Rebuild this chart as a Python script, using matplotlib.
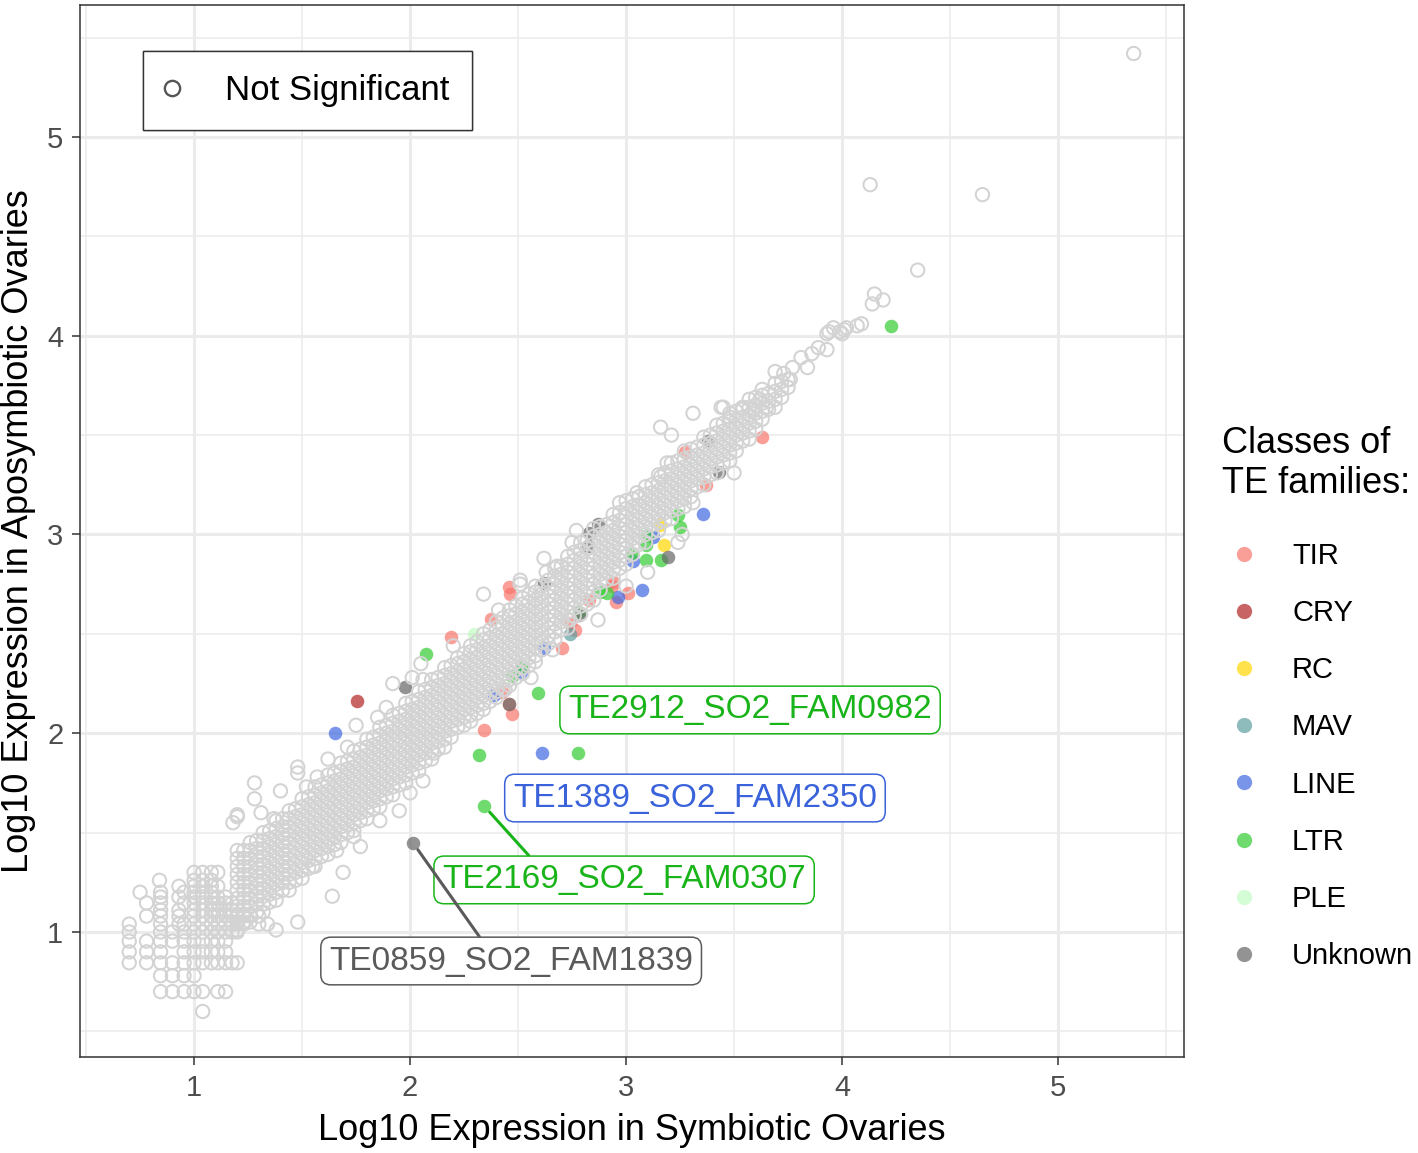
import numpy as np
import matplotlib.pyplot as plt
from matplotlib.lines import Line2D
from matplotlib.ticker import FixedLocator

plt.rcParams['font.family'] = ['Liberation Sans', 'DejaVu Sans']

# ── data: log10 expression, symbiotic (x) vs aposymbiotic (y) ──

# not significant, dense band: one column of y values per x
ns_col_x = [1.20, 1.23, 1.26, 1.29, 1.32, 1.35, 1.38, 1.41, 1.44, 1.47,
            1.50, 1.53, 1.56, 1.59, 1.62, 1.65, 1.68, 1.71, 1.74, 1.77,
            1.80, 1.83, 1.86, 1.89, 1.92, 1.95, 1.98, 2.01, 2.04, 2.07,
            2.10, 2.13, 2.16, 2.19, 2.22, 2.25, 2.28, 2.31, 2.34, 2.37,
            2.40, 2.43, 2.46, 2.49, 2.52, 2.55, 2.58, 2.61, 2.64, 2.67,
            2.70, 2.73, 2.76, 2.79, 2.82, 2.85, 2.88, 2.91, 2.94, 2.97,
            3.00, 3.03, 3.06, 3.09, 3.12, 3.15, 3.18, 3.21, 3.24, 3.27,
            3.30, 3.33, 3.36, 3.39, 3.42, 3.45, 3.48, 3.51, 3.54, 3.57,
            3.60, 3.63, 3.66, 3.69, 3.72, 3.75]
ns_col_y = [
    [1.01, 1.05, 1.09, 1.13, 1.17, 1.21, 1.25, 1.29, 1.33, 1.37, 1.41],
    [1.05, 1.09, 1.13, 1.17, 1.21, 1.25, 1.29, 1.33, 1.37, 1.41],
    [1.05, 1.09, 1.13, 1.17, 1.21, 1.25, 1.29, 1.33, 1.37, 1.41, 1.45],
    [1.10, 1.14, 1.18, 1.22, 1.26, 1.30, 1.34, 1.38, 1.42, 1.46],
    [1.10, 1.14, 1.18, 1.22, 1.26, 1.30, 1.34, 1.38, 1.42, 1.46, 1.50],
    [1.15, 1.19, 1.23, 1.27, 1.31, 1.35, 1.39, 1.43, 1.47, 1.51],
    [1.16, 1.20, 1.24, 1.28, 1.32, 1.36, 1.40, 1.44, 1.48, 1.52, 1.56],
    [1.21, 1.25, 1.29, 1.33, 1.37, 1.41, 1.45, 1.49, 1.53, 1.57],
    [1.21, 1.25, 1.29, 1.33, 1.37, 1.41, 1.45, 1.49, 1.53, 1.57, 1.61],
    [1.26, 1.30, 1.34, 1.38, 1.42, 1.46, 1.50, 1.54, 1.58, 1.62],
    [1.27, 1.31, 1.35, 1.39, 1.43, 1.47, 1.51, 1.55, 1.59, 1.63, 1.67],
    [1.32, 1.36, 1.40, 1.44, 1.48, 1.52, 1.56, 1.60, 1.64, 1.68],
    [1.33, 1.37, 1.41, 1.45, 1.49, 1.53, 1.57, 1.61, 1.65, 1.69, 1.73],
    [1.38, 1.42, 1.46, 1.50, 1.54, 1.58, 1.62, 1.66, 1.70, 1.74],
    [1.39, 1.43, 1.47, 1.51, 1.55, 1.59, 1.63, 1.67, 1.71, 1.75, 1.79],
    [1.44, 1.48, 1.52, 1.56, 1.60, 1.64, 1.68, 1.72, 1.76, 1.80],
    [1.45, 1.49, 1.53, 1.57, 1.61, 1.65, 1.69, 1.73, 1.77, 1.81, 1.85],
    [1.50, 1.54, 1.58, 1.62, 1.66, 1.70, 1.74, 1.78, 1.82, 1.86],
    [1.51, 1.55, 1.59, 1.63, 1.67, 1.71, 1.75, 1.79, 1.83, 1.87, 1.91],
    [1.56, 1.60, 1.64, 1.68, 1.72, 1.76, 1.80, 1.84, 1.88, 1.92],
    [1.57, 1.61, 1.65, 1.69, 1.73, 1.77, 1.81, 1.85, 1.89, 1.93, 1.97],
    [1.62, 1.66, 1.70, 1.74, 1.78, 1.82, 1.86, 1.90, 1.94, 1.98],
    [1.63, 1.67, 1.71, 1.75, 1.79, 1.83, 1.87, 1.91, 1.95, 1.99, 2.03],
    [1.68, 1.72, 1.76, 1.80, 1.84, 1.88, 1.92, 1.96, 2.00, 2.04],
    [1.69, 1.73, 1.77, 1.81, 1.85, 1.89, 1.93, 1.97, 2.01, 2.05, 2.09],
    [1.74, 1.78, 1.82, 1.86, 1.90, 1.94, 1.98, 2.02, 2.06, 2.10],
    [1.75, 1.79, 1.83, 1.87, 1.91, 1.95, 1.99, 2.03, 2.07, 2.11, 2.15],
    [1.80, 1.84, 1.88, 1.92, 1.96, 2.00, 2.04, 2.08, 2.12, 2.16],
    [1.81, 1.85, 1.89, 1.93, 1.97, 2.01, 2.05, 2.09, 2.13, 2.17, 2.21],
    [1.86, 1.90, 1.94, 1.98, 2.02, 2.06, 2.10, 2.14, 2.18, 2.22],
    [1.87, 1.91, 1.95, 1.99, 2.03, 2.07, 2.11, 2.15, 2.19, 2.23, 2.27],
    [1.92, 1.96, 2.00, 2.04, 2.08, 2.12, 2.16, 2.20, 2.24, 2.28],
    [1.93, 1.97, 2.01, 2.05, 2.09, 2.13, 2.17, 2.21, 2.25, 2.29, 2.33],
    [1.98, 2.02, 2.06, 2.10, 2.14, 2.18, 2.22, 2.26, 2.30, 2.34],
    [2.03, 2.07, 2.11, 2.15, 2.19, 2.23, 2.27, 2.31, 2.35, 2.38],
    [2.04, 2.08, 2.12, 2.16, 2.20, 2.24, 2.28, 2.32, 2.36, 2.40],
    [2.06, 2.09, 2.13, 2.17, 2.21, 2.25, 2.29, 2.33, 2.37, 2.41, 2.44],
    [2.10, 2.14, 2.18, 2.22, 2.26, 2.30, 2.34, 2.38, 2.42, 2.46],
    [2.12, 2.15, 2.19, 2.23, 2.27, 2.31, 2.35, 2.39, 2.43, 2.47, 2.50],
    [2.16, 2.20, 2.24, 2.28, 2.32, 2.36, 2.40, 2.44, 2.48, 2.52],
    [2.18, 2.21, 2.25, 2.29, 2.33, 2.37, 2.41, 2.45, 2.49, 2.53, 2.56],
    [2.22, 2.26, 2.30, 2.34, 2.38, 2.42, 2.46, 2.50, 2.54, 2.58],
    [2.24, 2.27, 2.31, 2.35, 2.39, 2.43, 2.47, 2.51, 2.55, 2.59, 2.62],
    [2.28, 2.32, 2.36, 2.40, 2.44, 2.48, 2.52, 2.56, 2.60, 2.64],
    [2.30, 2.33, 2.37, 2.41, 2.45, 2.49, 2.53, 2.57, 2.61, 2.65, 2.68],
    [2.34, 2.38, 2.42, 2.46, 2.50, 2.54, 2.58, 2.62, 2.66, 2.70],
    [2.36, 2.39, 2.43, 2.47, 2.51, 2.55, 2.59, 2.63, 2.67, 2.71, 2.74],
    [2.42, 2.46, 2.50, 2.54, 2.58, 2.62, 2.66, 2.70, 2.74],
    [2.45, 2.49, 2.53, 2.57, 2.61, 2.65, 2.69, 2.73, 2.77],
    [2.47, 2.51, 2.55, 2.59, 2.63, 2.67, 2.71, 2.75, 2.79, 2.83],
    [2.52, 2.56, 2.60, 2.64, 2.68, 2.72, 2.76, 2.80, 2.84],
    [2.53, 2.57, 2.61, 2.65, 2.69, 2.73, 2.77, 2.81, 2.85, 2.89],
    [2.59, 2.63, 2.67, 2.71, 2.75, 2.79, 2.83, 2.87, 2.91],
    [2.60, 2.64, 2.68, 2.72, 2.76, 2.80, 2.84, 2.88, 2.92, 2.96],
    [2.65, 2.69, 2.73, 2.77, 2.81, 2.85, 2.89, 2.93, 2.97],
    [2.67, 2.71, 2.75, 2.79, 2.83, 2.87, 2.91, 2.95, 2.99, 3.03],
    [2.72, 2.76, 2.80, 2.84, 2.88, 2.92, 2.96, 3.00, 3.04],
    [2.77, 2.81, 2.85, 2.89, 2.93, 2.97, 3.01, 3.05],
    [2.78, 2.82, 2.86, 2.90, 2.94, 2.98, 3.02, 3.06, 3.10],
    [2.83, 2.87, 2.91, 2.95, 2.99, 3.03, 3.07, 3.11],
    [2.85, 2.89, 2.93, 2.97, 3.01, 3.05, 3.09, 3.13, 3.17],
    [2.90, 2.94, 2.98, 3.02, 3.06, 3.10, 3.14, 3.18],
    [2.95, 2.99, 3.03, 3.07, 3.11, 3.15, 3.19],
    [2.96, 3.00, 3.04, 3.08, 3.12, 3.16, 3.20, 3.24],
    [3.01, 3.05, 3.09, 3.13, 3.17, 3.21, 3.25],
    [3.02, 3.06, 3.10, 3.14, 3.18, 3.22, 3.26, 3.30],
    [3.07, 3.11, 3.15, 3.19, 3.23, 3.27, 3.31],
    [3.08, 3.12, 3.16, 3.20, 3.24, 3.28, 3.32, 3.36],
    [3.13, 3.17, 3.21, 3.25, 3.29, 3.33, 3.37],
    [3.14, 3.18, 3.22, 3.26, 3.30, 3.34, 3.38, 3.42],
    [3.19, 3.23, 3.27, 3.31, 3.35, 3.39, 3.43],
    [3.24, 3.28, 3.32, 3.36, 3.40, 3.44],
    [3.25, 3.29, 3.33, 3.37, 3.41, 3.45, 3.49],
    [3.30, 3.34, 3.38, 3.42, 3.46, 3.50],
    [3.31, 3.35, 3.39, 3.43, 3.47, 3.51, 3.55],
    [3.36, 3.40, 3.44, 3.48, 3.52, 3.56],
    [3.37, 3.41, 3.45, 3.49, 3.53, 3.57, 3.61],
    [3.42, 3.46, 3.50, 3.54, 3.58, 3.62],
    [3.47, 3.51, 3.55, 3.59, 3.63],
    [3.48, 3.52, 3.56, 3.60, 3.64, 3.68],
    [3.53, 3.57, 3.61, 3.65, 3.69],
    [3.58, 3.62, 3.66, 3.70],
    [3.63, 3.67, 3.71],
    [3.64, 3.68, 3.72, 3.76],
    [3.69, 3.73, 3.77],
    [3.74, 3.78],
]

# not significant, low-count corner: rows of y with the x values present
ns_row_y = [0.60, 0.70, 0.78, 0.845, 0.90, 0.954, 1.00, 1.04,
            1.08, 1.11, 1.146, 1.176, 1.20, 1.23, 1.26, 1.30]
ns_row_x = [
    [1.04],
    [0.845, 0.90, 0.954, 1.00, 1.04, 1.11, 1.146],
    [0.845, 0.90, 0.954, 1.00],
    [0.70, 0.78, 0.845, 0.90, 0.954, 1.00, 1.04, 1.08, 1.11, 1.146, 1.176, 1.20],
    [0.70, 0.78, 0.845, 0.954, 1.00, 1.04, 1.08, 1.11, 1.146],
    [0.70, 0.78, 0.845, 0.90, 0.954, 1.00, 1.04, 1.08, 1.11, 1.146],
    [0.70, 0.845, 0.90, 0.954, 1.00, 1.04, 1.08, 1.11, 1.146, 1.176, 1.20],
    [0.70, 0.845, 0.93, 0.954, 1.00, 1.04, 1.08, 1.11, 1.146, 1.176, 1.20, 1.23, 1.30, 1.34],
    [0.78, 0.845, 0.93, 1.00, 1.04, 1.08, 1.11, 1.146, 1.176, 1.20, 1.23, 1.26, 1.30],
    [0.845, 0.93, 1.00, 1.04, 1.08, 1.11, 1.146, 1.176, 1.20],
    [0.78, 0.845, 0.954, 1.00, 1.04, 1.08, 1.11, 1.146, 1.176],
    [0.845, 0.93, 1.00, 1.04, 1.08, 1.11, 1.146],
    [0.75, 0.845, 0.954, 1.00, 1.04, 1.08],
    [0.93, 1.00, 1.04, 1.08, 1.11],
    [0.84, 1.00, 1.04, 1.08],
    [1.00, 1.04, 1.08, 1.11],
]

# not significant, scattered along and away from the band
ns_out_x = [3.73, 3.69, 3.77, 3.81, 3.84, 3.89, 3.93, 3.93, 3.96, 3.99,
            4.02, 4.07, 3.94, 4.01, 4.00, 4.09, 4.15, 4.19, 4.14, 4.35,
            4.13, 4.65, 5.35, 3.63, 3.62, 3.65, 3.59, 3.54, 3.48, 3.45,
            3.76, 3.86, 3.31, 3.16, 3.21, 3.44, 3.50, 3.05, 2.34, 2.51,
            2.87, 2.75, 3.26, 3.31, 1.28, 1.28, 1.40, 1.48, 1.48, 1.20,
            1.18, 1.95, 1.77, 1.92, 2.06, 1.75, 1.64, 1.48, 1.38, 1.69,
            2.06, 2.62, 2.44, 2.20,
            1.20, 1.31, 1.37, 1.52, 1.57, 1.62, 1.71, 1.85, 1.89, 2.05,
            2.01, 2.11, 2.00, 1.86, 1.74, 1.66, 1.55, 2.41, 2.51, 2.63,
            2.68, 2.77, 2.97, 3.16, 3.19, 2.66, 2.56, 2.74, 3.00, 3.10,
            3.24]
ns_out_y = [3.81, 3.82, 3.84, 3.89, 3.84, 3.94, 3.93, 4.01, 4.04, 4.02,
            4.04, 4.05, 4.02, 4.03, 4.01, 4.06, 4.21, 4.18, 4.16, 4.33,
            4.76, 4.71, 5.42, 3.73, 3.68, 3.64, 3.63, 3.64, 3.59, 3.64,
            3.78, 3.91, 3.61, 3.54, 3.50, 3.64, 3.31, 3.21, 2.70, 2.75,
            2.57, 2.96, 3.00, 3.16, 1.75, 1.67, 1.71, 1.83, 1.80, 1.58,
            1.55, 1.61, 1.43, 2.25, 2.27, 2.04, 1.18, 1.05, 1.01, 1.30,
            1.76, 2.88, 2.22, 2.44,
            1.59, 1.60, 1.57, 1.73, 1.78, 1.87, 1.93, 2.08, 2.13, 2.35,
            2.28, 1.90, 1.70, 1.56, 1.48, 1.41, 1.33, 2.62, 2.77, 2.81,
            2.84, 3.02, 3.16, 3.29, 3.36, 2.42, 2.28, 2.57, 2.74, 2.81,
            2.96]

# significant TE families, by class
tir_x = [3.630, 3.273, 3.370, 2.458, 2.463, 2.940, 2.935, 3.009, 2.954, 2.829,
         2.375, 2.190, 2.764, 2.741, 2.704, 2.426, 2.458, 2.472, 2.343]
tir_y = [3.491, 3.415, 3.249, 2.736, 2.701, 2.761, 2.741, 2.706, 2.660, 2.670,
         2.575, 2.484, 2.520, 2.555, 2.429, 2.208, 2.147, 2.097, 2.016]
cry_x = [1.755]
cry_y = [2.162]
rc_x = [3.157, 3.176]
rc_y = [3.048, 2.947]
mav_x = [2.740]
mav_y = [2.500]
line_x = [3.356, 3.125, 3.032, 3.074, 2.963, 2.620, 2.514, 2.389, 1.653, 2.611]
line_y = [3.103, 2.987, 2.867, 2.721, 2.686, 2.429, 2.308, 2.192, 2.001, 1.901]
ltr_x = [4.227, 3.241, 3.250, 3.097, 3.093, 3.028, 3.093, 3.162, 2.880, 2.912,
         2.782, 2.074, 2.519, 2.472, 2.593, 2.319, 2.778, 2.343]
ltr_y = [4.049, 3.098, 3.038, 2.997, 2.947, 2.907, 2.872, 2.872, 2.711, 2.706,
         2.610, 2.399, 2.338, 2.288, 2.203, 1.891, 1.901, 1.634]
ple_x = [2.296]
ple_y = [2.499]
unk_x = [3.380, 3.431, 2.870, 2.829, 2.824, 3.194, 2.620, 2.782, 1.977, 2.458, 2.014]
unk_y = [3.470, 3.314, 3.053, 3.008, 2.942, 2.887, 2.756, 2.595, 2.233, 2.147, 1.448]

classes = ['TIR', 'CRY', 'RC', 'MAV', 'LINE', 'LTR', 'PLE', 'Unknown']

# labelled families
lab_names = ['TE2912_SO2_FAM0982', 'TE1389_SO2_FAM2350',
             'TE2169_SO2_FAM0307', 'TE0859_SO2_FAM1839']
lab_x = [2.593, 2.611, 2.343, 2.014]
lab_y = [2.203, 1.901, 1.634, 1.448]

# ── styling ──
class_colors = ['#F8766D', '#B22222', '#FFD700', '#5F9EA0',
                '#4169E1', '#32CD32', '#98FB98', '#666666']
class_alpha = [0.7, 0.7, 0.7, 0.7, 0.7, 0.7, 0.4, 0.7]
lab_colors = ['#19B419', '#3A62DA', '#19B419', '#5A5A5A']
lab_pos = [(3.574, 2.117), (3.319, 1.674), (2.991, 1.262), (2.468, 0.854)]
lab_relpos = [None, None, (0.26, 1.0), (0.43, 1.0)]

RING = '#D3D3D3'

fig = plt.figure(figsize=(14.18, 11.53), dpi=100)
ax = fig.add_axes([80 / 1418, 96 / 1153, 1104 / 1418, 1052 / 1153])

# significant points first, rings of the non-significant cloud drawn over them
class_pts = [(tir_x, tir_y), (cry_x, cry_y), (rc_x, rc_y), (mav_x, mav_y),
             (line_x, line_y), (ltr_x, ltr_y), (ple_x, ple_y), (unk_x, unk_y)]
for (xs, ys), col, a in zip(class_pts, class_colors, class_alpha):
    ax.scatter(xs, ys, s=95, color=col, alpha=a, linewidths=0, zorder=2)

ns_x = [x for x, col in zip(ns_col_x, ns_col_y) for _ in col] \
    + [x for row in ns_row_x for x in row] + ns_out_x
ns_y = [y for col in ns_col_y for y in col] \
    + [y for y, row in zip(ns_row_y, ns_row_x) for _ in row] + ns_out_y
ax.scatter(ns_x, ns_y, s=92, facecolors='none', edgecolors=RING,
           linewidths=1.45, zorder=3)

# labels with connector segments
for name, px, py, pos, col, rp in zip(lab_names, lab_x, lab_y, lab_pos,
                                      lab_colors, lab_relpos):
    kw = {}
    if rp is not None:
        kw['arrowprops'] = dict(arrowstyle='-', color=col, lw=2.2,
                                relpos=rp, shrinkA=0, shrinkB=6)
    ax.annotate(name, xy=(px, py), xytext=pos, textcoords='data',
                ha='center', va='center', fontsize=24, color=col, zorder=5,
                bbox=dict(boxstyle='round,pad=0.25,rounding_size=0.3',
                          fc='white', ec=col, lw=1.1), **kw)

# axes look (theme_bw-like)
ax.set_xlim(0.472, 5.583)
ax.set_ylim(0.371, 5.664)
ax.set_xticks([1, 2, 3, 4, 5])
ax.set_yticks([1, 2, 3, 4, 5])
ax.xaxis.set_minor_locator(FixedLocator([0.5, 1.5, 2.5, 3.5, 4.5, 5.5]))
ax.yaxis.set_minor_locator(FixedLocator([0.5, 1.5, 2.5, 3.5, 4.5, 5.5]))
ax.grid(which='major', color='#EBEBEB', lw=2.2)
ax.grid(which='minor', color='#EBEBEB', lw=1.1)
ax.set_axisbelow(True)
ax.tick_params(which='major', length=6, width=1.1, color='#333333',
               labelsize=21, labelcolor='#4D4D4D', pad=6)
ax.tick_params(which='minor', length=0)
for sp in ax.spines.values():
    sp.set_color('#333333')
    sp.set_linewidth(1.1)

ax.set_xlabel('Log10 Expression in Symbiotic Ovaries', fontsize=26, labelpad=8)
ax.set_ylabel('Log10 Expression in Aposymbiotic Ovaries', fontsize=26, labelpad=8)

# legend: not significant
ns_handle = Line2D([], [], ls='', marker='o', mfc='none', mec='#555555',
                   ms=11, mew=1.7)
leg1 = ax.legend([ns_handle], ['Not Significant'], loc='upper left',
                 bbox_to_anchor=(143 / 1418, 1 - 51 / 1153),
                 bbox_transform=fig.transFigure, borderaxespad=0,
                 fontsize=25, fancybox=False, framealpha=1, edgecolor='#333333',
                 borderpad=0.66, handlelength=0.35, handletextpad=1.35)
leg1.get_frame().set_linewidth(1.0)
ax.add_artist(leg1)

# legend: classes (title drawn separately so its gap can match)
fig.text(1222 / 1418, 1 - 426 / 1153, 'Classes of\nTE families:', fontsize=26,
         ha='left', va='top', linespacing=1.17)
cls_handles = [Line2D([], [], ls='', marker='o', ms=11, mfc=c, mec=c,
                      alpha=a, mew=0)
               for c, a in zip(class_colors, class_alpha)]
fig.legend(cls_handles, classes, loc='upper left',
           bbox_to_anchor=(1222 / 1418, 1 - 542 / 1153), frameon=False,
           fontsize=21, labelspacing=1.0, handlelength=1.5,
           handletextpad=0.9, borderpad=0, borderaxespad=0)

fig.savefig('out.png', dpi=100)
